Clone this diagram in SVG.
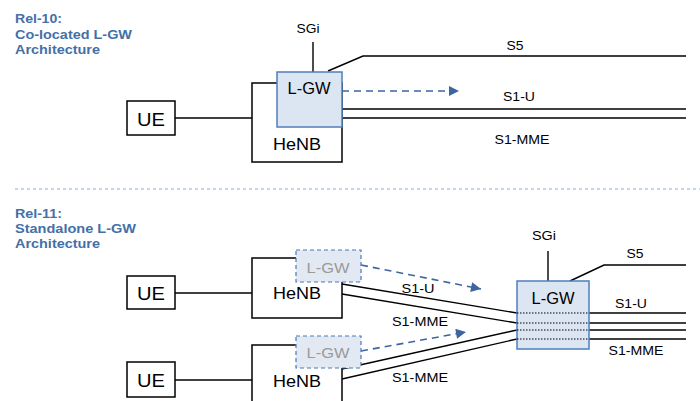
<svg xmlns="http://www.w3.org/2000/svg" width="700" height="401" viewBox="0 0 700 401">
<defs>
<marker id="arr" viewBox="0 0 10 10" refX="10" refY="5" markerWidth="13" markerHeight="10" markerUnits="userSpaceOnUse" orient="auto">
<path d="M0,0 L10,5 L0,10 Z" fill="#3c66a2"/>
</marker>
<style>
text{font-family:"Liberation Sans",Arial,sans-serif;fill:#000}
.title{font-weight:bold;fill:#4470a8;font-size:12.5px}
.box{fill:#fff;stroke:#000;stroke-width:1.5}
.lgw{fill:#dce6f2;stroke:#4f7fba;stroke-width:1.5}
.lgwd{fill:#e3e9f3;stroke:#4a78b4;stroke-width:1.2;stroke-dasharray:4,3}
.ln{fill:none;stroke:#000;stroke-width:1.4}
.dash{fill:none;stroke:#3c66a2;stroke-width:1.6;stroke-dasharray:7,5}
.dot{fill:none;stroke:#000;stroke-width:1;stroke-dasharray:1.5,1.5}
.lbl{font-size:13px;text-anchor:middle}
.big{font-size:19px;text-anchor:middle}
.mid{font-size:17px;text-anchor:middle}
.gw{font-size:16px;text-anchor:middle}
.gwg{font-size:15px;text-anchor:middle;fill:#9a9a9a}
</style>
</defs>

<g id="titles">
<text class="title" x="15" y="23" textLength="47" lengthAdjust="spacingAndGlyphs">Rel-10:</text>
<text class="title" x="15" y="39" textLength="117" lengthAdjust="spacingAndGlyphs">Co-located L-GW</text>
<text class="title" x="15" y="54" textLength="85" lengthAdjust="spacingAndGlyphs">Architecture</text>
<text class="title" x="15" y="218" textLength="47" lengthAdjust="spacingAndGlyphs">Rel-11:</text>
<text class="title" x="15" y="233" textLength="121" lengthAdjust="spacingAndGlyphs">Standalone L-GW</text>
<text class="title" x="15" y="248" textLength="85" lengthAdjust="spacingAndGlyphs">Architecture</text>
</g>

<line id="separator" x1="15" y1="189" x2="700" y2="189" stroke="#8eaad0" stroke-width="1.2" stroke-dasharray="3,3"/>

<g id="connectors">
<!-- top -->
<line class="ln" x1="175" y1="118" x2="252" y2="118"/>
<line class="ln" x1="313" y1="42" x2="313" y2="72"/>
<polyline class="ln" points="328,71 363,56 686,56"/>
<line class="ln" x1="342" y1="109" x2="686" y2="109"/>
<line class="ln" x1="342" y1="118" x2="686" y2="118"/>
<line class="dash" x1="342" y1="91" x2="459" y2="91" marker-end="url(#arr)"/>
<!-- bottom -->
<line class="ln" x1="175" y1="293" x2="252" y2="293"/>
<line class="ln" x1="175" y1="380" x2="252" y2="380"/>
<line class="ln" x1="342" y1="284" x2="517" y2="313"/>
<line class="ln" x1="342" y1="294" x2="517" y2="323"/>
<line class="ln" x1="342" y1="369" x2="517" y2="330"/>
<line class="ln" x1="342" y1="379" x2="517" y2="339"/>
<line class="ln" x1="548" y1="251" x2="548" y2="281"/>
<polyline class="ln" points="570,281 604,265 686,265"/>
<line class="ln" x1="589" y1="313" x2="686" y2="313"/>
<line class="ln" x1="589" y1="323" x2="686" y2="323"/>
<line class="ln" x1="589" y1="330" x2="686" y2="330"/>
<line class="ln" x1="589" y1="339" x2="686" y2="339"/>
<line class="dash" x1="361" y1="265" x2="481" y2="289" marker-end="url(#arr)"/>
<line class="dash" x1="361" y1="351" x2="466" y2="332" marker-end="url(#arr)"/>
</g>

<g id="labels">
<text class="lbl" x="308" y="33" textLength="23" lengthAdjust="spacingAndGlyphs">SGi</text>
<text class="lbl" x="515" y="50" textLength="17" lengthAdjust="spacingAndGlyphs">S5</text>
<text class="lbl" x="519" y="101" textLength="32" lengthAdjust="spacingAndGlyphs">S1-U</text>
<text class="lbl" x="522" y="144" textLength="55" lengthAdjust="spacingAndGlyphs">S1-MME</text>
<text class="lbl" x="544" y="240" textLength="24" lengthAdjust="spacingAndGlyphs">SGi</text>
<text class="lbl" x="635" y="258" textLength="17" lengthAdjust="spacingAndGlyphs">S5</text>
<text class="lbl" x="631" y="308" textLength="32" lengthAdjust="spacingAndGlyphs">S1-U</text>
<text class="lbl" x="636" y="355" textLength="55" lengthAdjust="spacingAndGlyphs">S1-MME</text>
<text class="lbl" x="418" y="293" textLength="33" lengthAdjust="spacingAndGlyphs">S1-U</text>
<text class="lbl" x="420" y="326" textLength="56" lengthAdjust="spacingAndGlyphs">S1-MME</text>
<text class="lbl" x="420" y="382" textLength="56" lengthAdjust="spacingAndGlyphs">S1-MME</text>
</g>

<!-- Rel-10 nodes -->
<g id="ue-top">
<rect class="box" x="127" y="101" width="48" height="34"/>
<text class="big" x="151" y="126" textLength="28" lengthAdjust="spacingAndGlyphs">UE</text>
</g>
<g id="henb-top">
<rect class="box" x="252" y="83" width="90" height="79"/>
<text class="mid" x="297" y="150" textLength="48" lengthAdjust="spacingAndGlyphs">HeNB</text>
</g>
<g id="lgw-top">
<rect class="lgw" x="277" y="72" width="65" height="55"/>
<text class="gw" x="309" y="94" textLength="43" lengthAdjust="spacingAndGlyphs">L-GW</text>
</g>

<!-- Rel-11 nodes -->
<g id="ue-1">
<rect class="box" x="127" y="276" width="48" height="33"/>
<text class="big" x="151" y="300" textLength="28" lengthAdjust="spacingAndGlyphs">UE</text>
</g>
<g id="henb-1">
<rect class="box" x="252" y="258" width="90" height="60"/>
<text class="mid" x="297" y="299" textLength="48" lengthAdjust="spacingAndGlyphs">HeNB</text>
</g>
<g id="lgw-1">
<rect class="lgwd" x="296" y="250" width="65" height="32"/>
<text class="gwg" x="328" y="273" textLength="43" lengthAdjust="spacingAndGlyphs">L-GW</text>
</g>
<g id="ue-2">
<rect class="box" x="127" y="362" width="48" height="35"/>
<text class="big" x="151" y="387" textLength="28" lengthAdjust="spacingAndGlyphs">UE</text>
</g>
<g id="henb-2">
<rect class="box" x="252" y="345" width="90" height="70"/>
<text class="mid" x="297" y="387" textLength="48" lengthAdjust="spacingAndGlyphs">HeNB</text>
</g>
<g id="lgw-2">
<rect class="lgwd" x="296" y="336" width="65" height="32"/>
<text class="gwg" x="328" y="358" textLength="43" lengthAdjust="spacingAndGlyphs">L-GW</text>
</g>
<g id="lgw-standalone">
<rect class="lgw" x="517" y="281" width="72" height="68"/>
<text class="gw" x="553" y="304" textLength="43" lengthAdjust="spacingAndGlyphs">L-GW</text>
<line class="dot" x1="517" y1="313" x2="589" y2="313"/>
<line class="dot" x1="517" y1="323" x2="589" y2="323"/>
<line class="dot" x1="517" y1="330" x2="589" y2="330"/>
<line class="dot" x1="517" y1="339" x2="589" y2="339"/>
</g>
</svg>
